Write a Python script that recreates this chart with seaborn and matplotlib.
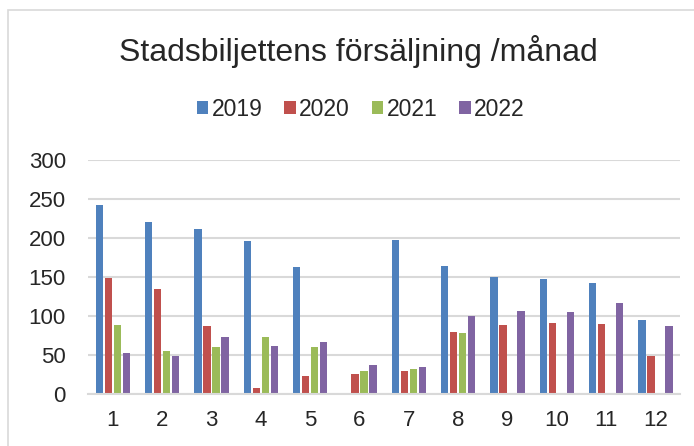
import numpy as np
import pandas as pd
import matplotlib
matplotlib.use('Agg')
import matplotlib.pyplot as plt
import matplotlib.patches as patches
import seaborn as sns

months = ['1', '2', '3', '4', '5', '6', '7', '8', '9', '10', '11', '12']
years = ['2019', '2020', '2021', '2022']
sales_2019 = [243, 221, 212, 196, 163, None, 198, 164, 150, 147, 142, 95]
sales_2020 = [149, 135, 87, 7, 23, 25, 29, 79, 88, 91, 90, 49]
sales_2021 = [88, 55, 60, 73, 60, 29, 32, 78, None, None, None, None]
sales_2022 = [53, 49, 73, 61, 67, 37, 35, 100, 106, 105, 116, 87]
colors = ['#4F81BD', '#C0504D', '#9BBB59', '#8064A2']

rows = []
for year, vals in zip(years, [sales_2019, sales_2020, sales_2021, sales_2022]):
    for m, v in zip(months, vals):
        if v is not None:
            rows.append({'month': m, 'year': year, 'value': v})
df = pd.DataFrame(rows)

sns.set_style('white')
plt.rcParams['font.family'] = ['Liberation Sans', 'DejaVu Sans']

fig = plt.figure(figsize=(6.94, 4.46), dpi=100)
ax = fig.add_axes([0.127, 0.117, 0.853, 0.524])

sns.barplot(data=df, x='month', y='value', hue='year', order=months,
            hue_order=years, palette=colors, saturation=1, width=0.73,
            gap=0.2, errorbar=None, linewidth=0, ax=ax)

ax.set_ylim(0, 300)
ax.set_yticks(range(0, 301, 50))
ax.yaxis.grid(True, color='#D9D9D9', linewidth=1.5)
ax.set_axisbelow(True)
for s in ['top', 'right', 'left']:
    ax.spines[s].set_visible(False)
ax.spines['bottom'].set_color('#D9D9D9')
ax.spines['bottom'].set_linewidth(1.5)
ax.set_xlabel('')
ax.set_ylabel('')
ax.tick_params(axis='y', length=0, pad=16, labelsize=16)
ax.tick_params(axis='x', length=0, pad=12, labelsize=16)

handles, labels = ax.get_legend_handles_labels()
ax.legend_.remove()
fig.legend(handles, labels, loc='center', bbox_to_anchor=(0.52, 1 - 109 / 446),
           ncol=4, frameon=False, fontsize=16.5, handlelength=0.5,
           handleheight=0.5, handletextpad=0.15, columnspacing=0.95)

fig.text(0.516, 1 - 52 / 446, 'Stadsbiljettens försäljning /månad',
         ha='center', va='center', fontsize=23)

fig.patches.append(patches.Rectangle((8 / 694, -0.01), 0.99, 0.988,
                                     transform=fig.transFigure, fill=False,
                                     edgecolor='#D9D9D9', linewidth=1.2))

fig.savefig('out.png', dpi=100)
